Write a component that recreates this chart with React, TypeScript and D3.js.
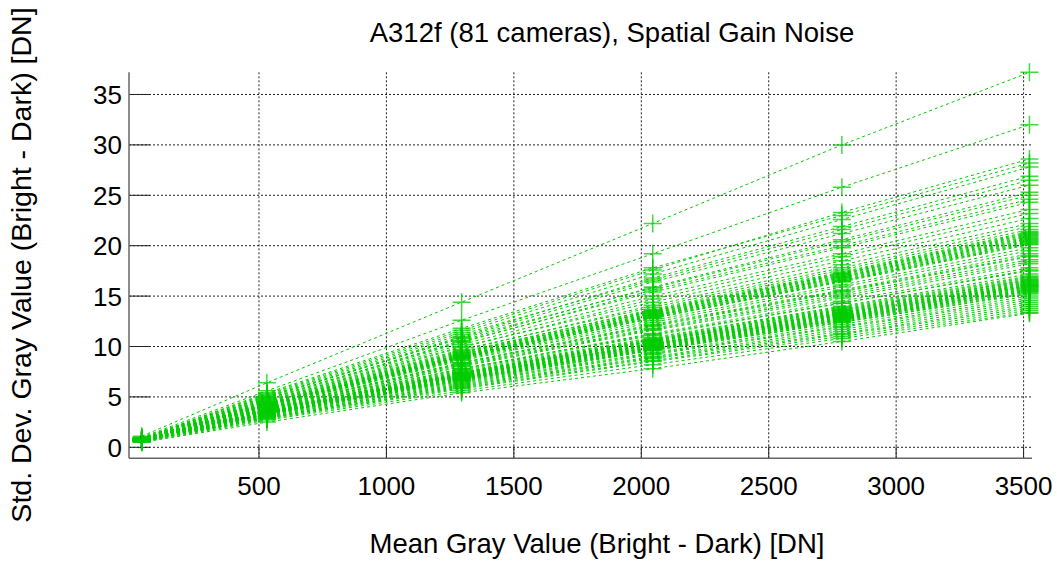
import React from "react";
import * as d3 from "d3";

const TITLE = "A312f (81 cameras), Spatial Gain Noise";
const X_LABEL = "Mean Gray Value (Bright - Dark) [DN]";
const Y_LABEL = "Std. Dev. Gray Value (Bright - Dark) [DN]";

const X_TICKS = [500, 1000, 1500, 2000, 2500, 3000, 3500];
const Y_TICKS = [0, 5, 10, 15, 20, 25, 30, 35];

// mean gray value of the six exposure levels
const X_LEVELS = [40, 531, 1295, 2045, 2787, 3523];

// std. dev. per camera at each exposure level
const NOISE: number[][] = [
  [1.1, 6.4, 14.4, 22.2, 30.0, 37.2],
  [1.0, 5.6, 12.6, 19.2, 25.8, 32.0],
  [0.9, 5.3, 11.6, 17.6, 23.3, 28.6],
  [0.9, 5.4, 11.8, 17.8, 23.0, 28.2],
  [0.9, 5.2, 11.4, 17.2, 22.6, 27.8],
  [0.9, 5.0, 11.0, 16.8, 21.9, 26.9],
  [0.8, 5.1, 11.2, 16.6, 21.6, 26.5],
  [0.8, 4.9, 10.9, 16.4, 21.2, 26.0],
  [0.8, 4.8, 10.6, 15.9, 20.6, 25.3],
  [0.9, 5.0, 10.8, 15.8, 20.4, 25.0],
  [0.8, 4.7, 10.4, 15.6, 20.0, 24.6],
  [0.8, 4.8, 10.5, 15.4, 19.8, 24.3],
  [0.8, 4.6, 10.2, 15.0, 19.2, 23.6],
  [0.8, 4.5, 9.9, 14.7, 18.9, 23.2],
  [0.8, 4.6, 10.0, 14.4, 18.5, 22.7],
  [0.8, 4.4, 9.6, 14.1, 18.1, 22.2],
  [0.8, 4.5, 9.7, 13.9, 17.8, 21.9],
  [0.8, 4.3, 9.4, 13.7, 17.6, 21.6],
  [0.8, 4.4, 9.5, 13.6, 17.4, 21.4],
  [0.7, 4.2, 9.3, 13.5, 17.3, 21.3],
  [0.8, 4.3, 9.2, 13.5, 17.2, 21.2],
  [0.8, 4.4, 9.4, 13.4, 17.2, 21.1],
  [0.7, 4.2, 9.1, 13.3, 17.1, 21.0],
  [0.8, 4.3, 9.2, 13.3, 17.0, 20.9],
  [0.8, 4.1, 9.0, 13.2, 16.9, 20.8],
  [0.7, 4.2, 9.1, 13.1, 16.9, 20.7],
  [0.8, 4.3, 9.0, 13.1, 16.8, 20.6],
  [0.8, 4.1, 8.9, 13.0, 16.7, 20.5],
  [0.7, 4.2, 9.0, 13.0, 16.6, 20.4],
  [0.8, 4.0, 8.8, 12.9, 16.5, 20.3],
  [0.8, 4.2, 8.9, 12.8, 16.5, 20.2],
  [0.7, 4.1, 8.8, 12.8, 16.4, 20.1],
  [0.8, 4.0, 8.7, 12.6, 16.1, 19.8],
  [0.7, 4.0, 8.6, 12.4, 15.9, 19.5],
  [0.8, 3.9, 8.4, 12.2, 15.6, 19.2],
  [0.7, 3.9, 8.4, 12.1, 15.5, 19.0],
  [0.7, 3.8, 8.3, 12.0, 15.4, 18.9],
  [0.8, 3.9, 8.2, 11.8, 15.2, 18.6],
  [0.7, 3.7, 8.1, 11.7, 15.0, 18.4],
  [0.7, 3.8, 8.0, 11.6, 14.8, 18.2],
  [0.7, 3.7, 7.8, 11.3, 14.5, 17.8],
  [0.8, 3.8, 7.8, 11.2, 14.3, 17.6],
  [0.7, 3.6, 7.7, 11.1, 14.3, 17.5],
  [0.7, 3.6, 7.6, 10.9, 14.0, 17.2],
  [0.7, 3.7, 7.5, 10.8, 13.9, 17.0],
  [0.7, 3.5, 7.4, 10.7, 13.8, 16.9],
  [0.8, 3.6, 7.4, 10.7, 13.7, 16.8],
  [0.7, 3.5, 7.3, 10.6, 13.6, 16.7],
  [0.7, 3.6, 7.3, 10.5, 13.5, 16.6],
  [0.8, 3.7, 7.4, 10.6, 13.6, 16.6],
  [0.7, 3.5, 7.2, 10.5, 13.4, 16.5],
  [0.7, 3.6, 7.2, 10.4, 13.4, 16.4],
  [0.8, 3.5, 7.3, 10.5, 13.3, 16.4],
  [0.7, 3.4, 7.1, 10.3, 13.3, 16.3],
  [0.7, 3.5, 7.1, 10.3, 13.2, 16.2],
  [0.8, 3.6, 7.2, 10.2, 13.2, 16.2],
  [0.7, 3.4, 7.0, 10.2, 13.1, 16.1],
  [0.7, 3.5, 7.1, 10.3, 13.1, 16.1],
  [0.7, 3.4, 7.0, 10.1, 13.0, 16.0],
  [0.8, 3.5, 7.1, 10.2, 13.0, 16.0],
  [0.7, 3.4, 7.0, 10.1, 12.9, 15.9],
  [0.7, 3.5, 6.9, 10.0, 12.9, 15.9],
  [0.7, 3.3, 6.9, 10.0, 12.8, 15.8],
  [0.7, 3.4, 6.9, 9.9, 12.8, 15.7],
  [0.6, 3.3, 6.8, 9.9, 12.7, 15.7],
  [0.7, 3.4, 6.8, 9.8, 12.7, 15.6],
  [0.7, 3.3, 6.8, 9.8, 12.6, 15.5],
  [0.6, 3.3, 6.7, 9.7, 12.6, 15.5],
  [0.7, 3.3, 6.7, 9.7, 12.5, 15.4],
  [0.6, 3.2, 6.6, 9.6, 12.4, 15.3],
  [0.7, 3.3, 6.6, 9.6, 12.4, 15.2],
  [0.6, 3.2, 6.5, 9.4, 12.2, 15.0],
  [0.6, 3.1, 6.4, 9.3, 12.0, 14.8],
  [0.6, 3.1, 6.3, 9.2, 11.9, 14.6],
  [0.6, 3.0, 6.2, 9.0, 11.7, 14.4],
  [0.6, 3.0, 6.1, 8.9, 11.5, 14.2],
  [0.6, 2.9, 6.0, 8.8, 11.3, 14.0],
  [0.6, 2.9, 5.9, 8.6, 11.2, 13.8],
  [0.6, 2.8, 5.8, 8.5, 11.0, 13.6],
  [0.5, 2.7, 5.6, 8.2, 10.8, 13.4],
  [0.5, 2.5, 5.4, 7.8, 10.5, 13.3],
];

const W = 1057;
const H = 561;
const LEFT = 129;
const RIGHT = 1032;
const TOP = 72.3;
const BOTTOM = 458.3;
const GREEN = "#00cc00";
const FONT = "'Liberation Sans', Arial, Helvetica, sans-serif";

export default function App() {
  const x = d3.scaleLinear().domain([-10, 3533]).range([LEFT, RIGHT]);
  const y = d3.scaleLinear().domain([-1.09, 37.2]).range([BOTTOM, TOP]);
  const line = d3
    .line<[number, number]>()
    .x((d) => x(d[0]))
    .y((d) => y(d[1]));
  const M = 9;

  return (
    <svg
      width={W}
      height={H}
      style={{ position: "absolute", left: 0, top: 0, background: "#fff" }}
      fontFamily={FONT}
    >
      <rect x={0} y={0} width={W} height={H} fill="#fff" />
      {/* grid */}
      {Y_TICKS.map((t) => (
        <line
          key={"gy" + t}
          x1={LEFT}
          x2={RIGHT}
          y1={y(t)}
          y2={y(t)}
          stroke="#222"
          strokeWidth={1}
          strokeDasharray="2,2"
        />
      ))}
      {X_TICKS.map((t) => (
        <line
          key={"gx" + t}
          x1={x(t)}
          x2={x(t)}
          y1={BOTTOM}
          y2={TOP}
          stroke="#222"
          strokeWidth={1}
          strokeDasharray="2,2"
        />
      ))}
      {/* ticks */}
      {Y_TICKS.map((t) => (
        <line
          key={"ty" + t}
          x1={LEFT}
          x2={LEFT + 21}
          y1={y(t)}
          y2={y(t)}
          stroke="#222"
          strokeWidth={1}
        />
      ))}
      {X_TICKS.map((t) => (
        <line
          key={"tx" + t}
          x1={x(t)}
          x2={x(t)}
          y1={BOTTOM}
          y2={BOTTOM - 12}
          stroke="#222"
          strokeWidth={1}
        />
      ))}
      {/* data */}
      {NOISE.map((row, i) => {
        const pts: [number, number][] = row.map((v, j) => [X_LEVELS[j], v]);
        return (
          <g key={"c" + i}>
            <path
              d={line(pts) || ""}
              fill="none"
              stroke={GREEN}
              strokeWidth={1}
              strokeDasharray="3,3"
            />
            {pts.map((p, j) => (
              <path
                key={j}
                d={`M${x(p[0]) - M},${y(p[1])}h${2 * M}M${x(p[0])},${y(p[1]) - M}v${2 * M}`}
                stroke={GREEN}
                strokeWidth={1.5}
                strokeOpacity={0.75}
                fill="none"
              />
            ))}
          </g>
        );
      })}
      {/* axes */}
      <line x1={LEFT} x2={LEFT} y1={TOP} y2={BOTTOM} stroke="#666" strokeWidth={1.5} />
      <line x1={LEFT} x2={RIGHT} y1={BOTTOM} y2={BOTTOM} stroke="#666" strokeWidth={1.5} />
      {/* tick labels */}
      {Y_TICKS.map((t) => (
        <text
          key={"ly" + t}
          x={LEFT - 7}
          y={y(t) + 9.5}
          textAnchor="end"
          fontSize={26}
          fill="#000"
        >
          {t}
        </text>
      ))}
      {X_TICKS.map((t) => (
        <text
          key={"lx" + t}
          x={x(t)}
          y={495}
          textAnchor="middle"
          fontSize={26}
          fill="#000"
        >
          {t}
        </text>
      ))}
      <text x={612} y={42} textAnchor="middle" fontSize={27.5} fill="#000">
        {TITLE}
      </text>
      <text x={597} y={553} textAnchor="middle" fontSize={27.5} fill="#000">
        {X_LABEL}
      </text>
      <text
        transform={`translate(31,265) rotate(-90)`}
        textAnchor="middle"
        fontSize={28.5}
        fill="#000"
      >
        {Y_LABEL}
      </text>
    </svg>
  );
}
